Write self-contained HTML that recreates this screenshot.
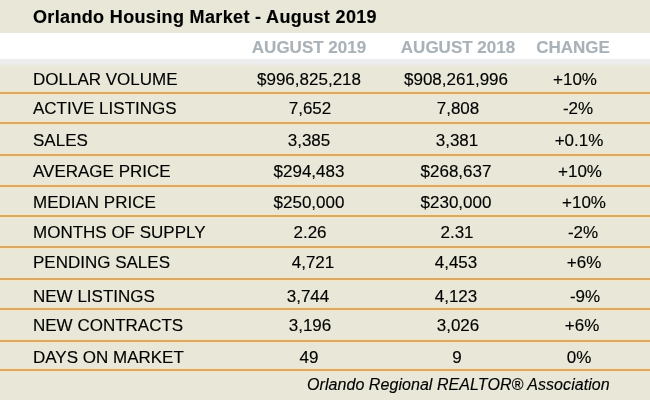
<!DOCTYPE html>
<html><head><meta charset="utf-8"><style>
html,body{margin:0;padding:0;}
body{width:650px;height:400px;overflow:hidden;position:relative;background:#e9e8d8;font-family:"Liberation Sans",sans-serif;color:#000;}
.t{position:absolute;white-space:nowrap;line-height:1;will-change:transform;-webkit-text-stroke:0.15px currentColor;}
.c{transform:translateX(-50%);}
.ln{position:absolute;left:0;width:650px;height:2px;background:#daa965;box-shadow:0 -1px 0 #f5e4bd, 0 1px 0 #f5e4bd;}
</style></head><body>
<div style="position:absolute;left:0;top:33px;width:650px;height:26px;background:#ffffff"></div>
<div style="position:absolute;left:0;top:59px;width:650px;height:8px;background:linear-gradient(#ededef 0px,#ededef 4px,#e9e8d8 8px)"></div>
<div class="t" style="left:33px;top:8px;font-size:18px;font-weight:bold;letter-spacing:0.35px;color:#000">Orlando Housing Market - August 2019</div>
<div class="t c" style="left:309.4px;top:39px;font-size:17px;font-weight:bold;color:#a9b2b8">AUGUST 2019</div>
<div class="t c" style="left:458.4px;top:39px;font-size:17px;font-weight:bold;color:#a9b2b8">AUGUST 2018</div>
<div class="t c" style="left:573.1px;top:39px;font-size:17px;font-weight:bold;color:#a9b2b8">CHANGE</div>
<div class="t" style="left:33px;top:71px;font-size:17px">DOLLAR VOLUME</div>
<div class="t c" style="left:308.5px;top:71px;font-size:17px">$996,825,218</div>
<div class="t c" style="left:455.85px;top:71px;font-size:17px">$908,261,996</div>
<div class="t c" style="left:575.4px;top:71px;font-size:17px">+10%</div>
<div class="ln" style="top:92px"></div>
<div class="t" style="left:33px;top:100px;font-size:17px">ACTIVE LISTINGS</div>
<div class="t c" style="left:309.85px;top:100px;font-size:17px">7,652</div>
<div class="t c" style="left:457.9px;top:100px;font-size:17px">7,808</div>
<div class="t c" style="left:577.5px;top:100px;font-size:17px">-2%</div>
<div class="ln" style="top:122px"></div>
<div class="t" style="left:33px;top:132px;font-size:17px">SALES</div>
<div class="t c" style="left:308.85px;top:132px;font-size:17px">3,385</div>
<div class="t c" style="left:457.15px;top:132px;font-size:17px">3,381</div>
<div class="t c" style="left:579.35px;top:132px;font-size:17px">+0.1%</div>
<div class="ln" style="top:154px"></div>
<div class="t" style="left:33px;top:163px;font-size:17px">AVERAGE PRICE</div>
<div class="t c" style="left:309.3px;top:163px;font-size:17px">$294,483</div>
<div class="t c" style="left:456.4px;top:163px;font-size:17px">$268,637</div>
<div class="t c" style="left:580.1px;top:163px;font-size:17px">+10%</div>
<div class="ln" style="top:185px"></div>
<div class="t" style="left:33px;top:194px;font-size:17px">MEDIAN PRICE</div>
<div class="t c" style="left:309.3px;top:194px;font-size:17px">$250,000</div>
<div class="t c" style="left:456.2px;top:194px;font-size:17px">$230,000</div>
<div class="t c" style="left:583.5px;top:194px;font-size:17px">+10%</div>
<div class="ln" style="top:215px"></div>
<div class="t" style="left:33px;top:224px;font-size:17px">MONTHS OF SUPPLY</div>
<div class="t c" style="left:310.0px;top:224px;font-size:17px">2.26</div>
<div class="t c" style="left:457.4px;top:224px;font-size:17px">2.31</div>
<div class="t c" style="left:582.75px;top:224px;font-size:17px">-2%</div>
<div class="ln" style="top:246px"></div>
<div class="t" style="left:33px;top:254px;font-size:17px">PENDING SALES</div>
<div class="t c" style="left:312.5px;top:254px;font-size:17px">4,721</div>
<div class="t c" style="left:456.05px;top:254px;font-size:17px">4,453</div>
<div class="t c" style="left:583.85px;top:254px;font-size:17px">+6%</div>
<div class="ln" style="top:278px"></div>
<div class="t" style="left:33px;top:288px;font-size:17px">NEW LISTINGS</div>
<div class="t c" style="left:308.45px;top:288px;font-size:17px">3,744</div>
<div class="t c" style="left:456.05px;top:288px;font-size:17px">4,123</div>
<div class="t c" style="left:584.85px;top:288px;font-size:17px">-9%</div>
<div class="ln" style="top:308px"></div>
<div class="t" style="left:33px;top:317px;font-size:17px">NEW CONTRACTS</div>
<div class="t c" style="left:309.5px;top:317px;font-size:17px">3,196</div>
<div class="t c" style="left:457.75px;top:317px;font-size:17px">3,026</div>
<div class="t c" style="left:582.3px;top:317px;font-size:17px">+6%</div>
<div class="ln" style="top:340px"></div>
<div class="t" style="left:33px;top:349px;font-size:17px">DAYS ON MARKET</div>
<div class="t c" style="left:309.45px;top:349px;font-size:17px">49</div>
<div class="t c" style="left:457.05px;top:349px;font-size:17px">9</div>
<div class="t c" style="left:579.2px;top:349px;font-size:17px">0%</div>
<div class="ln" style="top:369px"></div>
<div class="t" style="left:307px;top:377px;font-size:16px;font-style:italic;letter-spacing:0.06px">Orlando Regional REALTOR® Association</div>
</body></html>
